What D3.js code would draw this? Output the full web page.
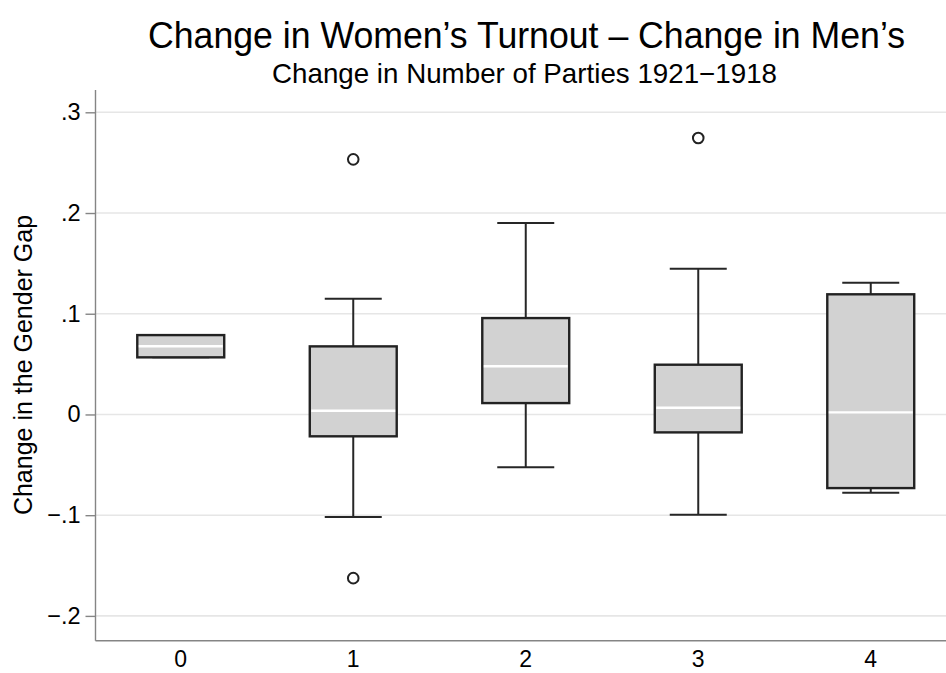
<!DOCTYPE html>
<html>
<head>
<meta charset="utf-8">
<script src="https://cdn.jsdelivr.net/npm/d3@7"></script>
<style>
  body { margin: 0; background: #fff; }
  svg { display: block; font-family: "Liberation Sans", Arial, Helvetica, sans-serif; }
  .grid line { stroke: #e6e6e6; stroke-width: 1.6; }
  .axis-line { stroke: #858585; stroke-width: 1.4; }
  .box { fill: #d2d2d2; stroke: #222; stroke-width: 2.4; }
  .whisker { stroke: #262626; stroke-width: 2; }
  .median { stroke: #fff; stroke-width: 2.4; }
  .outlier { fill: none; stroke: #222; stroke-width: 2; }
</style>
</head>
<body>
<svg width="946" height="673"></svg>
<script>
// box plot summary
const categories = ["0", "1", "2", "3", "4"];
const q1         = [0.0567, -0.0217, 0.0113, -0.0178, -0.0731];
const median     = [0.0677,  0.0037, 0.0478,  0.0067,  0.0021];
const q3         = [0.0788,  0.0676, 0.0957,  0.0494,  0.1193];
const whiskerLo  = [0.0567, -0.1019, -0.0525, -0.0996, -0.0778];
const whiskerHi  = [0.0788,  0.1149, 0.1901,  0.1447,  0.1308];
const outliers   = [[], [0.2533, -0.1625], [], [0.2745], []];

const yTicks = [-0.2, -0.1, 0, 0.1, 0.2, 0.3];
const yTickLabels = ["\u2212.2", "\u2212.1", "0", ".1", ".2", ".3"];

const svg = d3.select("svg");

const plot = {left: 95.5, right: 946, top: 90, bottom: 640.7};

const x = d3.scaleBand()
  .domain(categories)
  .range([94.5, 957])
  .paddingInner(0.496)
  .paddingOuter(0.248);

const y = d3.scaleLinear()
  .domain([-0.2, 0.3])
  .range([615.9, 112.3]);

const capHalf = 28.5;

// 网格线
svg.append("g").attr("class", "grid")
  .selectAll("line")
  .data(yTicks)
  .join("line")
  .attr("x1", plot.left)
  .attr("x2", plot.right)
  .attr("y1", d => y(d))
  .attr("y2", d => y(d));

// 坐标轴
svg.append("line").attr("class", "axis-line")
  .attr("x1", plot.left).attr("x2", plot.left)
  .attr("y1", plot.top).attr("y2", plot.bottom);
svg.append("line").attr("class", "axis-line")
  .attr("x1", plot.left).attr("x2", plot.right)
  .attr("y1", plot.bottom).attr("y2", plot.bottom);

const yAxis = d3.axisLeft(y)
  .tickValues(yTicks)
  .tickFormat((d, i) => yTickLabels[i])
  .tickSize(10)
  .tickPadding(5);

const ya = svg.append("g")
  .attr("transform", `translate(${plot.left},0)`)
  .call(yAxis);
ya.select(".domain").remove();
ya.selectAll(".tick line").attr("stroke", "#858585").attr("stroke-width", 1.4);
ya.selectAll(".tick text")
  .attr("fill", "#000")
  .attr("font-size", 23.5)
  .attr("font-family", "Liberation Sans, Arial, sans-serif");

// x 轴标签
svg.append("g")
  .selectAll("text")
  .data(categories)
  .join("text")
  .attr("x", d => x(d) + x.bandwidth() / 2)
  .attr("y", 667)
  .attr("text-anchor", "middle")
  .attr("font-size", 23)
  .text(d => d);

// 箱线图
const boxes = svg.append("g")
  .selectAll("g.boxg")
  .data(categories)
  .join("g")
  .attr("class", "boxg");

boxes.each(function(c, i) {
  const g = d3.select(this);
  const cx = x(c) + x.bandwidth() / 2;

  // whiskers
  g.append("line").attr("class", "whisker")
    .attr("x1", cx).attr("x2", cx)
    .attr("y1", y(q3[i])).attr("y2", y(whiskerHi[i]));
  g.append("line").attr("class", "whisker")
    .attr("x1", cx).attr("x2", cx)
    .attr("y1", y(q1[i])).attr("y2", y(whiskerLo[i]));
  g.append("line").attr("class", "whisker")
    .attr("x1", cx - capHalf).attr("x2", cx + capHalf)
    .attr("y1", y(whiskerHi[i])).attr("y2", y(whiskerHi[i]));
  g.append("line").attr("class", "whisker")
    .attr("x1", cx - capHalf).attr("x2", cx + capHalf)
    .attr("y1", y(whiskerLo[i])).attr("y2", y(whiskerLo[i]));

  g.append("rect").attr("class", "box")
    .attr("x", x(c))
    .attr("width", x.bandwidth())
    .attr("y", y(q3[i]))
    .attr("height", y(q1[i]) - y(q3[i]));

  g.append("line").attr("class", "median")
    .attr("x1", x(c) + 1.5).attr("x2", x(c) + x.bandwidth() - 1.5)
    .attr("y1", y(median[i])).attr("y2", y(median[i]));

  g.selectAll("circle")
    .data(outliers[i])
    .join("circle")
    .attr("class", "outlier")
    .attr("cx", cx)
    .attr("cy", d => y(d))
    .attr("r", 5.3);
});

// 标题
svg.append("text")
  .attr("x", 526.5)
  .attr("y", 48)
  .attr("text-anchor", "middle")
  .attr("font-size", 37)
  .attr("textLength", 757)
  .attr("lengthAdjust", "spacingAndGlyphs")
  .text("Change in Women\u2019s Turnout \u2013 Change in Men\u2019s");

svg.append("text")
  .attr("x", 524.5)
  .attr("y", 83)
  .attr("text-anchor", "middle")
  .attr("font-size", 28)
  .attr("textLength", 505)
  .attr("lengthAdjust", "spacingAndGlyphs")
  .text("Change in Number of Parties 1921\u22121918");

// y 轴标题
svg.append("text")
  .attr("transform", "translate(32,365) rotate(-90)")
  .attr("text-anchor", "middle")
  .attr("font-size", 25)
  .text("Change in the Gender Gap");
</script>
</body>
</html>
